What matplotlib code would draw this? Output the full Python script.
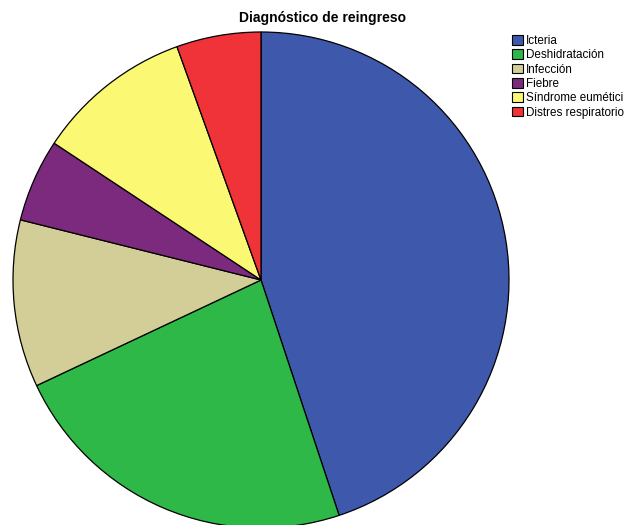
import matplotlib
matplotlib.use("Agg")
import matplotlib.pyplot as plt
from matplotlib.patches import Patch

plt.rcParams['font.family'] = ['Liberation Sans', 'DejaVu Sans']

categories = ["Icteria", "Deshidratación", "Infección", "Fiebre", "Síndrome eumétici", "Distres respiratorio"]
values = [44.9, 23.1, 10.9, 5.4, 10.2, 5.5]
colors = ["#3E58AC", "#2EB848", "#D3CE97", "#7B2A7E", "#FBF873", "#EF3338"]
title = "Diagnóstico de reingreso"

W, H = 626, 525
fig = plt.figure(figsize=(W/100, H/100), dpi=100)
cx, cy, r = 261, 280, 248
ax = fig.add_axes([(cx - r)/W, (H - cy - r)/H, 2*r/W, 2*r/H])
wedges, _ = ax.pie(values, colors=colors, startangle=90, counterclock=False, radius=1,
                   wedgeprops=dict(edgecolor="black", linewidth=0.9))
for w in wedges:
    w.set_clip_on(False)
ax.set_xlim(-1, 1)
ax.set_ylim(-1, 1)
ax.set_aspect('equal')
ax.axis('off')

fig.text(239/W, 1 - 18/H, title, ha='left', va='center', fontsize=10, fontweight='bold')

handles = [Patch(facecolor=c, edgecolor='black', linewidth=0.8) for c in colors]
fig.legend(handles, categories, loc='upper left', bbox_to_anchor=(512/W, 1 - 35/H),
           frameon=False, fontsize=8.4, handlelength=0.95, handleheight=0.9,
           handletextpad=0.25, labelspacing=0.2, borderpad=0, borderaxespad=0)

fig.savefig("out.png", dpi=100)
